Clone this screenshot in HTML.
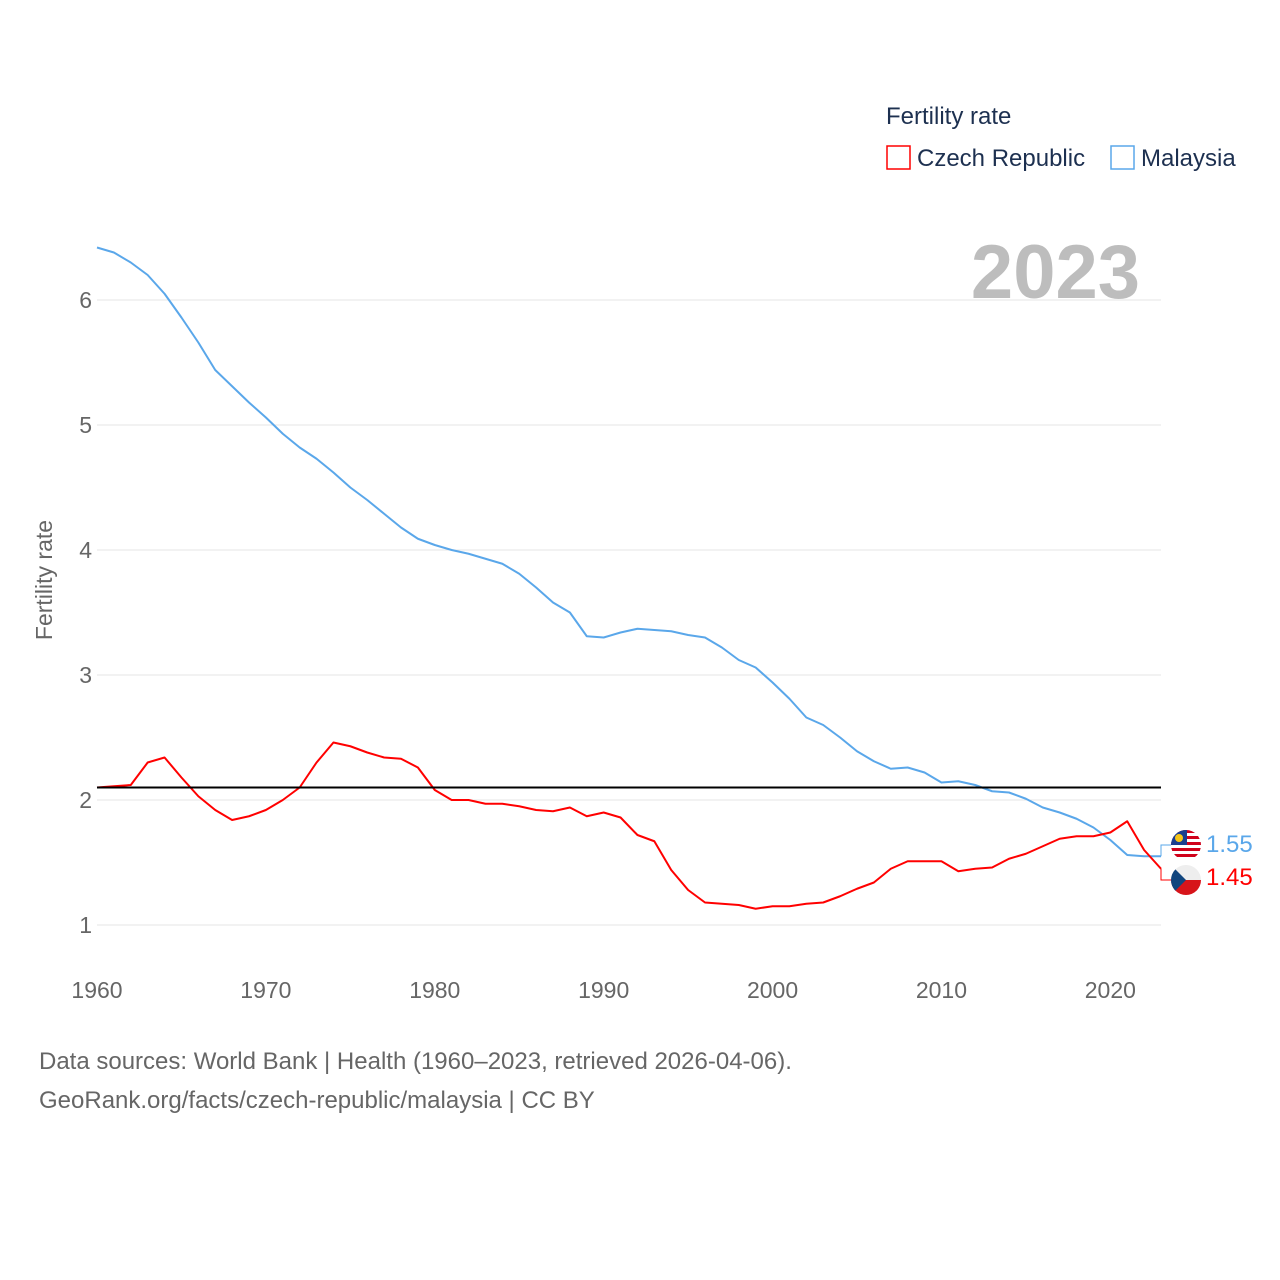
<!DOCTYPE html>
<html><head><meta charset="utf-8"><style>
body{margin:0;background:#fff;font-family:"Liberation Sans",sans-serif}
svg{display:block}
text{font-family:"Liberation Sans",sans-serif}
</style></head><body>
<svg id="chart" width="1280" height="1280" viewBox="0 0 1280 1280">
<defs>
<clipPath id="cMY"><circle cx="1186" cy="845" r="15"/></clipPath>
<clipPath id="cCZ"><circle cx="1186" cy="880" r="15"/></clipPath>
</defs>
<g id="grid"></g>
<g id="yticks"></g>
<g id="xticks"></g>
<text x="52" y="580" transform="rotate(-90 52 580)" text-anchor="middle" font-size="23" fill="#666">Fertility rate</text>
<text x="1140" y="298" text-anchor="end" font-size="76" font-weight="bold" fill="#bdbdbd">2023</text>
<g id="series"></g>
<line id="refline" x1="97" x2="1161" stroke="#000" stroke-width="2"/>
<g>
<text x="886" y="124" font-size="24" fill="#1d3050">Fertility rate</text>
<g><rect x="887" y="146" width="23" height="23" fill="none" stroke="#ff0000" stroke-width="1.5"/><text x="917" y="166" font-size="24" fill="#1d3050">Czech Republic</text></g>
<g><rect x="1111" y="146" width="23" height="23" fill="none" stroke="#5aa7ea" stroke-width="1.5"/><text x="1141" y="166" font-size="24" fill="#1d3050">Malaysia</text></g>
</g>
<g clip-path="url(#cMY)">
<rect x="1171" y="830" width="30" height="30" fill="#fff"/>
<rect x="1171" y="830" width="30" height="3" fill="#d0021b"/><rect x="1171" y="836" width="30" height="3" fill="#d0021b"/><rect x="1171" y="842" width="30" height="3" fill="#d0021b"/><rect x="1171" y="848" width="30" height="3" fill="#d0021b"/><rect x="1171" y="854" width="30" height="3" fill="#d0021b"/>
<rect x="1171" y="830" width="16" height="15" fill="#1a3f8f"/><circle cx="1179" cy="838" r="4" fill="#f5c518"/>
</g>
<g clip-path="url(#cCZ)">
<rect x="1171" y="865" width="30" height="15" fill="#eee"/><rect x="1171" y="880" width="30" height="15" fill="#d7141a"/>
<polygon points="1171,865 1186,880 1171,895" fill="#11457e"/>
</g>
<text x="1206" y="852" font-size="24" fill="#5aa7ea">1.55</text>
<text x="1206" y="885" font-size="24" fill="#ff0000">1.45</text>
<text x="39" y="1069" font-size="24" fill="#666">Data sources: World Bank | Health (1960–2023, retrieved 2026-04-06).</text>
<text x="39" y="1108" font-size="24" fill="#666">GeoRank.org/facts/czech-republic/malaysia | CC BY</text>
</svg>
<script>
const years=[];for(let y=1960;y<=2023;y++)years.push(y);
const malaysia=[6.42,6.38,6.30,6.20,6.05,5.86,5.66,5.44,5.31,5.18,5.06,4.93,4.82,4.73,4.62,4.50,4.40,4.29,4.18,4.09,4.04,4.00,3.97,3.93,3.89,3.81,3.70,3.58,3.50,3.31,3.30,3.34,3.37,3.36,3.35,3.32,3.30,3.22,3.12,3.06,2.94,2.81,2.66,2.60,2.50,2.39,2.31,2.25,2.26,2.22,2.14,2.15,2.12,2.07,2.06,2.01,1.94,1.90,1.85,1.78,1.68,1.56,1.55,1.55];
const czech=[2.10,2.11,2.12,2.30,2.34,2.18,2.03,1.92,1.84,1.87,1.92,2.00,2.10,2.30,2.46,2.43,2.38,2.34,2.33,2.26,2.08,2.00,2.00,1.97,1.97,1.95,1.92,1.91,1.94,1.87,1.90,1.86,1.72,1.67,1.44,1.28,1.18,1.17,1.16,1.13,1.15,1.15,1.17,1.18,1.23,1.29,1.34,1.45,1.51,1.51,1.51,1.43,1.45,1.46,1.53,1.57,1.63,1.69,1.71,1.71,1.74,1.83,1.60,1.45];
const yTicks=[1,2,3,4,5,6];
const xTicks=[1960,1970,1980,1990,2000,2010,2020];
const refValue=2.1;
const NS='http://www.w3.org/2000/svg';
const X=v=>97+(v-1960)*(1064/63);
const Y=v=>925-(v-1)*125;
function mk(tag,attrs,parent){const e=document.createElementNS(NS,tag);for(const k in attrs)e.setAttribute(k,attrs[k]);parent.appendChild(e);return e;}
const grid=document.getElementById('grid'),yt=document.getElementById('yticks'),xt=document.getElementById('xticks');
yTicks.forEach(t=>{
 const l=mk('line',{x1:97,x2:1161,y1:Y(t),y2:Y(t),stroke:'#e6e6e6','stroke-width':1},grid);
 
 
 const tx=mk('text',{x:92,y:Y(t)+8,'text-anchor':'end','font-size':23,fill:'#666'},yt);tx.textContent=t;
 
 
});
xTicks.forEach(t=>{
 const tx=mk('text',{x:X(t),y:998,'text-anchor':'middle','font-size':23,fill:'#666'},xt);tx.textContent=t;
 
 
});
const r=document.getElementById('refline');r.setAttribute('y1',Y(refValue));r.setAttribute('y2',Y(refValue));
const s=document.getElementById('series');
function line(data,color,name){
 const p=mk('polyline',{points:data.map((v,i)=>X(years[i])+','+Y(v)).join(' '),fill:'none',stroke:color,'stroke-width':2,'stroke-linejoin':'round'},s);
 
 
}
line(malaysia,'#5aa7ea','malaysia-line');
line(czech,'#ff0000','czech-line');
const lx=X(2023);
const c1=mk('polyline',{points:`${lx},${Y(malaysia[63])} ${lx},845 1171,845`,fill:'none',stroke:'#5aa7ea','stroke-width':1},s);


const c2=mk('polyline',{points:`${lx},${Y(czech[63])} ${lx},880 1171,880`,fill:'none',stroke:'#ff0000','stroke-width':1},s);


</script>
</body></html>
